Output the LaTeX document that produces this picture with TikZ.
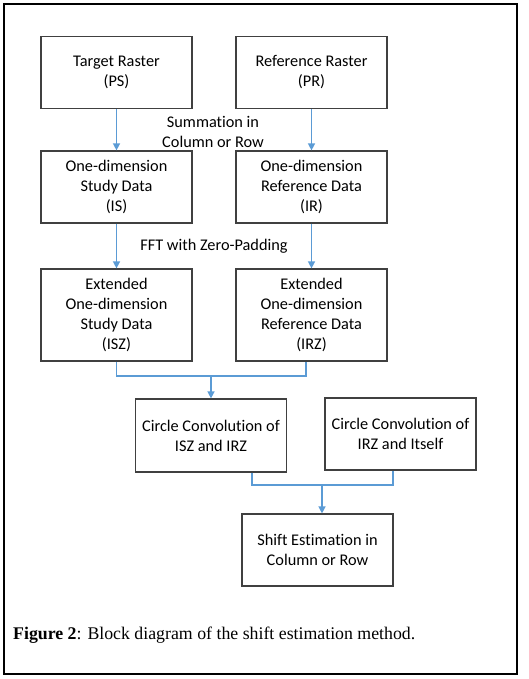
\documentclass[tikz,border=0pt]{standalone}
\usepackage{fontspec}
\setmainfont{Liberation Serif}
\newfontfamily\boxfont[Ligatures=NoCommon]{Carlito}
\usepackage{xcolor}
\usepackage{tikz}
\usetikzlibrary{arrows.meta}
\definecolor{C1}{RGB}{91,155,213}
\definecolor{C2}{RGB}{64,64,64}

\begin{document}
\begin{tikzpicture}[x=1pt,y=-1pt,
      box/.style={draw=C2,line width=1.2pt,
                  font=\boxfont\fontsize{16.3}{20}\selectfont,
                  minimum width=151pt,minimum height=72pt,
                  align=center,inner sep=2pt},
      tall/.style={box,minimum height=92pt},
      lbl/.style={font=\boxfont\fontsize{16.3}{20}\selectfont,align=center},
      line/.style={C1,line width=1.4pt},
      arr/.style={line,-{Triangle[width=7pt,length=7pt]}}]
    \useasboundingbox (0,0) rectangle (528,679);
    \draw[line width=1.4pt] (4,4) rectangle (517,674);
    % inputs
    \node[box] (ps) at (116.5,72.5) {Target Raster\\(PS)};
    \node[box] (pr) at (311.5,72.5) {Reference Raster\\(PR)};
    % one-dimension data
    \node[box] (is) at (116.5,187) {One-dimension\\Study Data\\(IS)};
    \node[box] (ir) at (311.5,187) {One-dimension\\Reference Data\\(IR)};
    % extended data
    \node[tall] (isz) at (116.5,315)
      {Extended\\One-dimension\\Study Data\\(ISZ)};
    \node[tall] (irz) at (311.5,315)
      {Extended\\One-dimension\\Reference Data\\(IRZ)};
    % convolutions
    \node[box,minimum height=73pt] (convA) at (211,435.5)
      {Circle Convolution of\\ISZ and IRZ};
    \node[box] (convB) at (400.5,434)
      {Circle Convolution of\\IRZ and Itself};
    \node[box] (shift) at (317.5,550)
      {Shift Estimation in\\Column or Row};
    % labels
    \node[lbl] (sum) at (213,132) {Summation in\\Column or Row};
    \node[lbl] (fft) at (214,246) {FFT with Zero-Padding};
    % arrows
    \draw[arr] (ps) -- (is);
    \draw[arr] (pr) -- (ir);
    \draw[arr] (is) -- (isz);
    \draw[arr] (ir) -- (irz);
    \coordinate (m1) at (211,376);
    \draw[line] (isz.south) |- (m1) -| ([xshift=-5.5pt]irz.south);
    \draw[arr] (m1) -- (convA.north);
    \coordinate (m2) at (322,485);
    \draw[line] ([xshift=41pt]convA.south) |- (m2)
      -| ([xshift=-7.5pt]convB.south);
    \draw[arr] (m2) -- (m2 |- shift.north);
    % caption
    \node[anchor=west,font=\fontsize{17.8}{21}\selectfont,inner sep=0pt]
      (cap) at (13,635)
      {\textbf{Figure 2}: Block diagram of the shift estimation method.};
  \end{tikzpicture}
\end{document}
